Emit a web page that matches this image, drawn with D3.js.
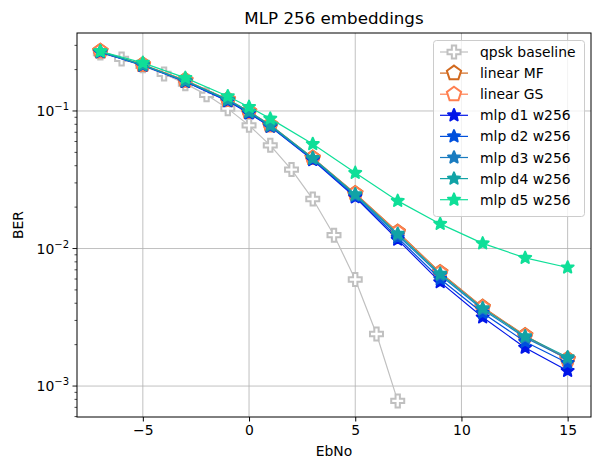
<!DOCTYPE html>
<html><head><meta charset="utf-8">
<script src="https://cdn.jsdelivr.net/npm/d3@7"></script>
<style>body{margin:0;background:#fff}svg{font-family:"DejaVu Sans",sans-serif}</style>
</head><body><svg id="c" width="595" height="462"></svg>
<script>
const ebnoBase = [-7,-6,-5,-4,-3,-2,-1,0,1,2,3,4,5,6,7];
const berBase = [0.264,0.239,0.213,0.186,0.158,0.131,0.104,0.0786,0.0563,0.0375,0.0229,0.0125,0.00595,0.00239,0.00078];
const ebnoModel = [-7,-5,-3,-1,0,1,3,5,7,9,11,13,15];
const berMF = [0.272,0.217,0.167,0.121,0.099,0.079,0.0455,0.0251,0.0132,0.00670,0.00375,0.00233,0.00157];
const berGS = [0.272,0.217,0.167,0.121,0.099,0.079,0.0455,0.0250,0.0131,0.00665,0.00372,0.00231,0.00156];
const berD1 = [0.268,0.214,0.163,0.118,0.096,0.077,0.0440,0.0236,0.0116,0.00570,0.00316,0.00190,0.00129];
const berD2 = [0.268,0.215,0.164,0.119,0.097,0.077,0.0445,0.0240,0.0120,0.00600,0.00340,0.00210,0.00147];
const berD3 = [0.270,0.216,0.165,0.120,0.098,0.078,0.0450,0.0245,0.0125,0.00640,0.00360,0.00225,0.00158];
const berD4 = [0.270,0.216,0.166,0.121,0.099,0.079,0.0455,0.0248,0.0128,0.00655,0.00368,0.00230,0.00162];
const berD5 = [0.272,0.224,0.174,0.128,0.107,0.088,0.0575,0.0355,0.0222,0.0151,0.0109,0.00855,0.00728];
const xTicks = [-5,0,5,10,15];
const yTicks = [1e-1,1e-2,1e-3];
const yTickExp = ["−1","−2","−3"];

const series = [
  {name:"qpsk baseline", x:ebnoBase, y:berBase, color:"#c0c0c0", marker:"plus"},
  {name:"linear MF", x:ebnoModel, y:berMF, color:"#d2691e", marker:"pent"},
  {name:"linear GS", x:ebnoModel, y:berGS, color:"#ff7f50", marker:"pent"},
  {name:"mlp d1 w256", x:ebnoModel, y:berD1, color:"#0015e8", marker:"star"},
  {name:"mlp d2 w256", x:ebnoModel, y:berD2, color:"#0050dc", marker:"star"},
  {name:"mlp d3 w256", x:ebnoModel, y:berD3, color:"#1a7cc0", marker:"star"},
  {name:"mlp d4 w256", x:ebnoModel, y:berD4, color:"#12a3a6", marker:"star"},
  {name:"mlp d5 w256", x:ebnoModel, y:berD5, color:"#0fdf98", marker:"star"}
];

const svg = d3.select("#c");
const L=77,R=591,T=33,B=417;
const x = d3.scaleLinear().domain([-8.1,16.1]).range([L,R]);
const y = d3.scaleLog().domain([Math.pow(10,-3.225),Math.pow(10,-0.433)]).range([B,T]);

function pentPath(r){
  const pts=[];for(let i=0;i<5;i++){const a=-Math.PI/2+i*2*Math.PI/5;pts.push([r*Math.cos(a),r*Math.sin(a)]);}
  return "M"+pts.map(p=>p.join(",")).join("L")+"Z";
}
function plusPath(s){
  const a=s, b=s/3;
  const p=[[-b,-a],[b,-a],[b,-b],[a,-b],[a,b],[b,b],[b,a],[-b,a],[-b,b],[-a,b],[-a,-b],[-b,-b]];
  return "M"+p.map(q=>q.join(",")).join("L")+"Z";
}
function starPath(r){
  const ri=r*0.45, pts=[];
  for(let i=0;i<10;i++){const a=-Math.PI/2+i*Math.PI/5;const rr=i%2?ri:r;pts.push([rr*Math.cos(a),rr*Math.sin(a)]);}
  return "M"+pts.map(p=>p.map(v=>v.toFixed(2)).join(",")).join("L")+"Z";
}
function drawMarker(g,m,color,cx,cy){
  if(m==="plus") g.append("path").attr("d",plusPath(6.5)).attr("transform",`translate(${cx},${cy})`).attr("fill","#fff").attr("stroke",color).attr("stroke-width",2);
  else if(m==="pent") g.append("path").attr("d",pentPath(7.5)).attr("transform",`translate(${cx},${cy})`).attr("fill","#fff").attr("stroke",color).attr("stroke-width",2);
  else g.append("path").attr("d",starPath(6.3)).attr("transform",`translate(${cx},${cy})`).attr("fill",color).attr("stroke",color).attr("stroke-width",2).attr("stroke-linejoin","round");
}

// grid
const grid = svg.append("g");
xTicks.forEach(t=>grid.append("line").attr("x1",x(t)).attr("x2",x(t)).attr("y1",T).attr("y2",B).attr("stroke","#b0b0b0").attr("stroke-width",0.8));
yTicks.forEach(t=>grid.append("line").attr("x1",L).attr("x2",R).attr("y1",y(t)).attr("y2",y(t)).attr("stroke","#b0b0b0").attr("stroke-width",0.8));

// series
const line = d3.line();
series.forEach(s=>{
  const g = svg.append("g");
  const pts = s.x.map((v,i)=>[x(v),y(s.y[i])]);
  g.append("path").attr("d",line(pts)).attr("fill","none").attr("stroke",s.color).attr("stroke-width",1.2);
  pts.forEach(p=>drawMarker(g,s.marker,s.color,p[0],p[1]));
});

// frame
svg.append("rect").attr("x",L).attr("y",T).attr("width",R-L).attr("height",B-T).attr("fill","none").attr("stroke","#000").attr("stroke-width",1);

// x axis
const xa = svg.append("g").attr("transform",`translate(0,${B})`)
  .call(d3.axisBottom(x).tickValues(xTicks).tickSize(4.5).tickPadding(4).tickFormat(d=>d<0?"−"+Math.abs(d):d));
xa.select(".domain").remove();
xa.selectAll("text").attr("font-size",13.9).attr("font-family","DejaVu Sans").attr("fill","#000");

// y axis ticks
const ya = svg.append("g");
const minor=[];
for(let k=-4;k<=0;k++) for(let m=2;m<=9;m++){const v=m*Math.pow(10,k); if(v>=y.domain()[0]&&v<=y.domain()[1]) minor.push(v);}
minor.forEach(v=>ya.append("line").attr("x1",L).attr("x2",L-2.5).attr("y1",y(v)).attr("y2",y(v)).attr("stroke","#000").attr("stroke-width",0.7));
yTicks.forEach((v,i)=>{
  ya.append("line").attr("x1",L).attr("x2",L-4.5).attr("y1",y(v)).attr("y2",y(v)).attr("stroke","#000").attr("stroke-width",0.9);
  const t = ya.append("text").attr("x",L-8).attr("y",y(v)+5).attr("text-anchor","end").attr("font-size",13.9).attr("fill","#000");
  t.append("tspan").text("10");
  t.append("tspan").attr("dy",-6).attr("font-size",10).text(yTickExp[i]);
});

// labels
svg.append("text").attr("x",(L+R)/2).attr("y",24).attr("text-anchor","middle").attr("font-size",16.7).text("MLP 256 embeddings");
svg.append("text").attr("x",(L+R)/2).attr("y",456).attr("text-anchor","middle").attr("font-size",13.9).text("EbNo");
svg.append("text").attr("transform",`translate(23,${(T+B)/2}) rotate(-90)`).attr("text-anchor","middle").attr("font-size",13.9).text("BER");

// legend
const lg = svg.append("g");
lg.append("rect").attr("x",433.5).attr("y",40.5).attr("width",151).attr("height",176).attr("rx",3).attr("fill","#fff").attr("fill-opacity",0.8).attr("stroke","#cccccc").attr("stroke-width",1);
series.forEach((s,i)=>{
  const cy = 52 + i*21.1;
  lg.append("line").attr("x1",440).attr("x2",468).attr("y1",cy).attr("y2",cy).attr("stroke",s.color).attr("stroke-width",1.2);
  drawMarker(lg,s.marker,s.color,454,cy);
  lg.append("text").attr("x",480).attr("y",cy+5).attr("font-size",13.9).attr("fill","#000").text(s.name);
});
</script></body></html>
